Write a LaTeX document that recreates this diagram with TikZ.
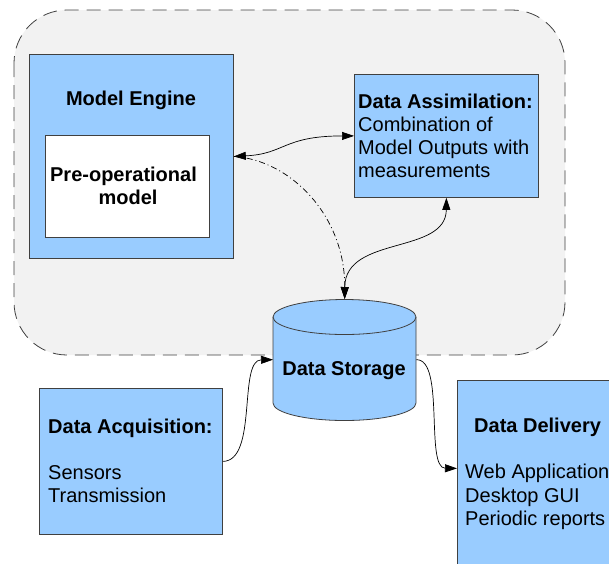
\documentclass[tikz,border=0pt]{standalone}
\usepackage{fontspec}
\setmainfont{Liberation Sans}
\usetikzlibrary{arrows.meta}
\definecolor{boxblue}{HTML}{99CCFF}
\definecolor{boxline}{HTML}{404040}
\definecolor{bggray}{HTML}{F2F2F2}
\begin{document}
\begin{tikzpicture}[x=1pt,y=-1pt,
  box/.style={draw=boxline, fill=boxblue, line width=0.8pt, inner sep=0pt, rectangle, anchor=north west},
  lbl/.style={inner sep=0pt, font=\fontsize{20pt}{23pt}\selectfont},
  blbl/.style={inner sep=0pt, font=\fontsize{20pt}{23pt}\selectfont\bfseries},
  conn/.style={line width=0.7pt, draw=black},
  tipend/.style={-{Triangle[length=12pt,width=8pt]}},
  tipboth/.style={{Triangle[length=12pt,width=8pt]}-{Triangle[length=12pt,width=8pt]}},
  dashdot/.style={dash pattern=on 6pt off 3pt on 1pt off 3pt}
]
\useasboundingbox (0,0) rectangle (609,563);
\clip (0,0) rectangle (609,563);
% background group
\draw[fill=bggray, draw=boxline, line width=0.8pt, dash pattern=on 14pt off 8pt, rounded corners=53pt] (14,10) rectangle (565,355);
% boxes
\node[box, minimum width=204pt, minimum height=204pt] (me) at (29,54) {};
\node[box, fill=white, minimum width=164pt, minimum height=102pt] (pre) at (45,135) {};
\node[box, minimum width=184pt, minimum height=123pt] (da) at (354,74) {};
\node[box, minimum width=183pt, minimum height=146pt] (dq) at (39,388) {};
\node[box, minimum width=170pt, minimum height=195pt] (dd) at (457,380) {};
% cylinder
\node[inner sep=0pt, minimum width=143pt, minimum height=121pt, anchor=north west] (ds) at (273,299) {};
\draw[draw=boxline, fill=boxblue, line width=0.8pt]
  (273,317) -- (273,403) arc[start angle=180, end angle=360, x radius=71.5pt, y radius=17.5pt]
  -- (416,317) arc[start angle=0, end angle=180, x radius=71.5pt, y radius=17.5pt] -- cycle;
\draw[draw=boxline, line width=0.8pt] (273,317) arc[start angle=180, end angle=360, x radius=71.5pt, y radius=17.5pt];
% texts
\node[blbl, anchor=base] (metxt) at (131,105) {Model Engine};
\node[blbl, anchor=base] (pretxt1) at (123.5,181.5) {Pre-operational};
\node[blbl, anchor=base] (pretxt2) at (128,204) {model};
\node[blbl, anchor=base west] (datxt1) at (358,108) {Data Assimilation:};
\node[lbl, anchor=base west] (datxt2) at (358,131) {Combination of};
\node[lbl, anchor=base west] (datxt3) at (358,154) {Model Outputs with};
\node[lbl, anchor=base west] (datxt4) at (358,177) {measurements};
\node[blbl, anchor=base] (dstxt) at (344,375) {Data Storage};
\node[blbl, anchor=base west] (dqtxt1) at (48,433) {Data Acquisition:};
\node[lbl, anchor=base west] (dqtxt2) at (48,479) {Sensors};
\node[lbl, anchor=base west] (dqtxt3) at (48,502) {Transmission};
\node[blbl, anchor=base west] (ddtxt1) at (474,432) {Data Delivery};
\node[lbl, anchor=base west] (ddtxt2) at (465,478) {Web Application};
\node[lbl, anchor=base west] (ddtxt3) at (465,502) {Desktop GUI};
\node[lbl, anchor=base west] (ddtxt4) at (465,525) {Periodic reports};
% connectors
\draw[conn, tipboth] (me.east) .. controls (285,154) and (283,136) .. (da.west);
\draw[conn, tipend, dashdot] (me.east) .. controls (290,160) and (345,215) .. (ds.north);
\draw[conn, tipboth] (da.south) .. controls (446,255) and (345,235) .. (ds.north);
\draw[conn, tipend] (dq.east) .. controls (258,461) and (238,360) .. (ds.west);
\draw[conn, tipend] (ds.east) .. controls (445,359) and (425,468) .. ([yshift=9.5pt]dd.west);
\end{tikzpicture}
\end{document}
